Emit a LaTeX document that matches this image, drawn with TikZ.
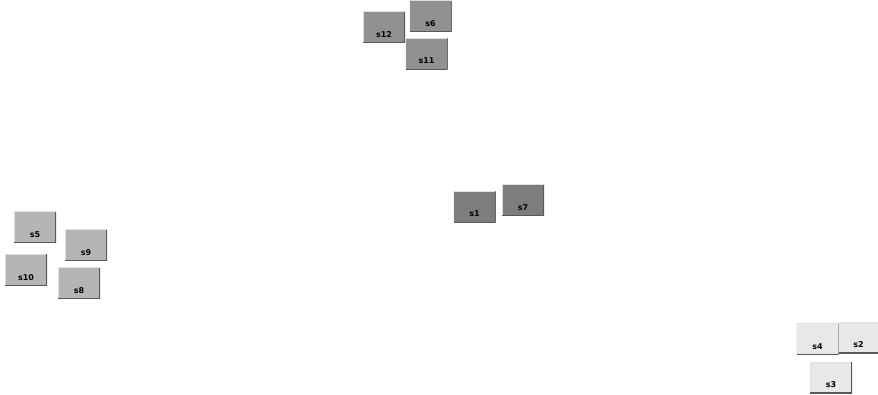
\documentclass[tikz,border=0pt]{standalone}
\usepackage{fontspec}
\setsansfont{DejaVu Sans}
\usepackage{tikz}
\definecolor{grpa}{gray}{0.57}
\definecolor{grpb}{gray}{0.49}
\definecolor{grpc}{gray}{0.71}
\definecolor{grpd}{gray}{0.91}
\begin{document}
\begin{tikzpicture}[x=1pt,y=-1pt,
	sbox/.style={rectangle, minimum width=42pt, minimum height=31pt, inner sep=0pt,
		text height=20pt, text depth=0pt, font=\sffamily\bfseries\fontsize{8}{9}\selectfont,
		path picture={
			\draw[white!75!gray, line width=1pt] (path picture bounding box.south west) -- (path picture bounding box.north west) -- (path picture bounding box.north east);
			\draw[black!65, line width=1.4pt] (path picture bounding box.north east) -- (path picture bounding box.south east) -- (path picture bounding box.south west);
		}}]
		\useasboundingbox (0,0) rectangle (878,395);
		\node[sbox, fill=grpa] (s12) at (384,27.5) {s12};
		\node[sbox, fill=grpa] (s6)  at (430.5,16.5) {s6};
		\node[sbox, fill=grpa] (s11) at (426.5,54) {s11};
		\node[sbox, fill=grpb] (s1)  at (474.5,207) {s1};
		\node[sbox, fill=grpb] (s7)  at (523,200.5) {s7};
		\node[sbox, fill=grpc] (s5)  at (35,227.5) {s5};
		\node[sbox, fill=grpc] (s9)  at (86,245.5) {s9};
		\node[sbox, fill=grpc] (s10) at (26,270) {s10};
		\node[sbox, fill=grpc] (s8)  at (79,283.5) {s8};
		\node[sbox, fill=grpd] (s4)  at (817.5,339) {s4};
		\node[sbox, fill=grpd, minimum width=40pt] (s2) at (858.5,337.5) {s2};
		\node[sbox, fill=grpd] (s3)  at (831,377.5) {s3};
	\end{tikzpicture}
\end{document}
